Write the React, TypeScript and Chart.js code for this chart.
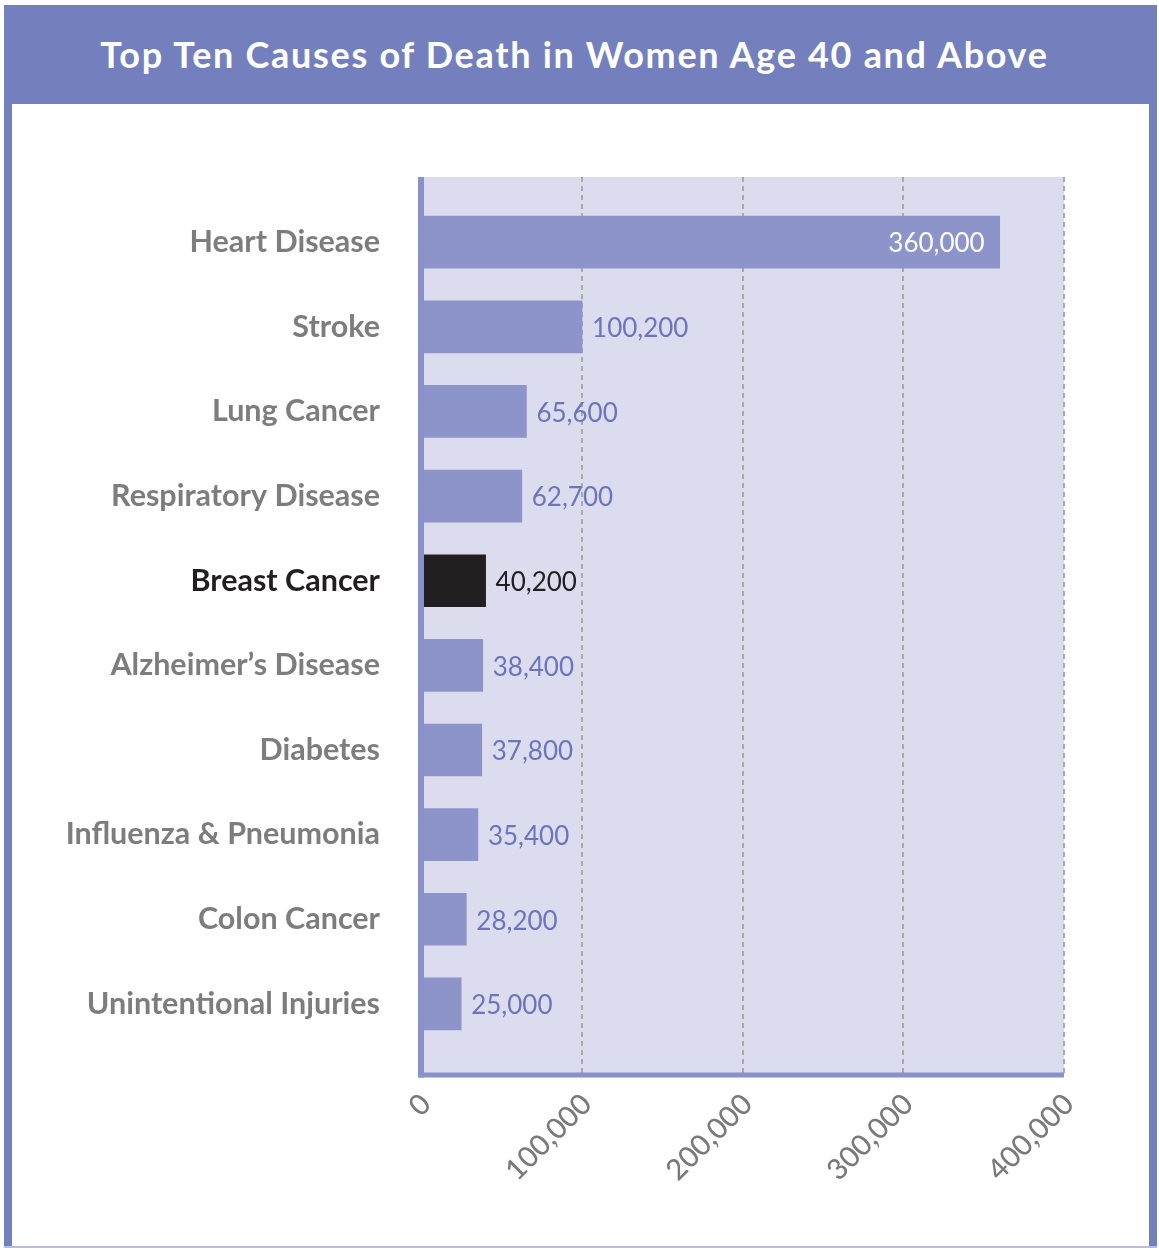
import React, { useEffect, useRef } from "react";
import { Chart, registerables } from "chart.js";
Chart.register(...registerables);

const TITLE = "Top Ten Causes of Death in Women Age 40 and Above";
const categories = [
  "Heart Disease",
  "Stroke",
  "Lung Cancer",
  "Respiratory Disease",
  "Breast Cancer",
  "Alzheimer’s Disease",
  "Diabetes",
  "Influenza & Pneumonia",
  "Colon Cancer",
  "Unintentional Injuries",
];
const deaths = [360000, 100200, 65600, 62700, 40200, 38400, 37800, 35400, 28200, 25000];
const xTickValues = [0, 100000, 200000, 300000, 400000];
const HIGHLIGHT = "Breast Cancer";

const FONT = "Lato, 'Noto Sans', sans-serif";
const FRAME = "#7480be";
const BAR = "#8c94ca";
const DARK = "#231f20";
const PLOT_BG = "#dcdcef";
const LABEL_PURPLE = "#6c75bb";
const GRAY = "#7a7a7a";
const AXIS = "#8a90c8";

const plotBg = {
  id: "plotBg",
  beforeDraw(chart: any) {
    const { ctx, chartArea } = chart;
    ctx.save();
    ctx.fillStyle = PLOT_BG;
    ctx.fillRect(chartArea.left, chartArea.top, chartArea.right - chartArea.left, chartArea.bottom - chartArea.top);
    ctx.restore();
  },
};

const axesAndLabels = {
  id: "axesAndLabels",
  afterDatasetsDraw(chart: any) {
    const { ctx, chartArea } = chart;
    const xs = chart.scales.x;
    const x0 = xs.getPixelForValue(0);
    ctx.save();
    ctx.strokeStyle = AXIS;
    ctx.lineWidth = 6;
    ctx.beginPath();
    ctx.moveTo(x0, chartArea.top);
    ctx.lineTo(x0, chartArea.bottom + 2.5);
    ctx.stroke();
    ctx.lineWidth = 5;
    ctx.beginPath();
    ctx.moveTo(x0 - 3, chartArea.bottom);
    ctx.lineTo(chartArea.right, chartArea.bottom);
    ctx.stroke();

    const meta = chart.getDatasetMeta(0);
    ctx.font = `400 26px ${FONT}`;
    ctx.textBaseline = "middle";
    meta.data.forEach((bar: any, i: number) => {
      const text = deaths[i].toLocaleString("en-US");
      const barLen = bar.x - x0;
      if (barLen > (chartArea.right - chartArea.left) / 2) {
        ctx.fillStyle = "#ffffff";
        ctx.textAlign = "right";
        ctx.fillText(text, bar.x - 15, bar.y + 1);
      } else {
        ctx.fillStyle = categories[i] === HIGHLIGHT ? DARK : LABEL_PURPLE;
        ctx.textAlign = "left";
        ctx.fillText(text, bar.x + 10, bar.y + 2);
      }
    });
    ctx.restore();
  },
};

function BarChart() {
  const ref = useRef<HTMLCanvasElement | null>(null);
  useEffect(() => {
    if (!ref.current) return;
    const chart = new Chart(ref.current, {
      type: "bar",
      data: {
        datasets: [
          {
            data: deaths.map((v, i) => ({ x: v, y: i })) as any,
            backgroundColor: categories.map((c) => (c === HIGHLIGHT ? DARK : BAR)),
            borderWidth: 0,
            barThickness: 52,
          },
        ],
      },
      options: {
        indexAxis: "y",
        animation: false,
        responsive: false,
        devicePixelRatio: 1,
        layout: { padding: { top: 177, right: 95, left: 0, bottom: 0 } },
        plugins: { legend: { display: false }, tooltip: { enabled: false }, title: { display: false } },
        scales: {
          x: {
            type: "linear",
            position: "bottom",
            min: 0,
            max: 400000,
            offset: false,
            afterBuildTicks: (s: any) => {
              s.ticks = xTickValues.map((v) => ({ value: v }));
            },
            afterFit: (s: any) => {
              s.height = 173;
            },
            ticks: {
              callback: (v: any) => Number(v).toLocaleString("en-US"),
              color: GRAY,
              font: { family: FONT, size: 29, weight: "500" },
              minRotation: 45,
              maxRotation: 45,
              padding: 12,
              labelOffset: 5,
              autoSkip: false,
            },
            grid: { color: "#a9a9a9", lineWidth: 2, drawTicks: false },
            border: { display: false, dash: [5, 4] },
          },
          y: {
            type: "linear",
            position: "left",
            reverse: true,
            offset: false,
            min: -0.77,
            max: 9.84,
            afterBuildTicks: (s: any) => {
              s.ticks = categories.map((_, i) => ({ value: i }));
            },
            afterFit: (s: any) => {
              s.width = 421;
            },
            ticks: {
              callback: (v: any) => categories[Number(v)],
              autoSkip: false,
              padding: 41,
              color: (c: any) => (categories[c.tick?.value] === HIGHLIGHT ? DARK : "#7d7d7d"),
              font: { family: FONT, size: 30.5, weight: "700" },
            },
            grid: { display: false, drawTicks: false },
            border: { display: false },
          },
        },
      } as any,
      plugins: [plotBg, axesAndLabels],
    });
    return () => chart.destroy();
  }, []);
  return (
    <canvas
      ref={ref}
      width={1159}
      height={1248}
      style={{ position: "absolute", left: 0, top: 0, width: 1159, height: 1248 }}
    />
  );
}

export default function App() {
  return (
    <div style={{ position: "absolute", left: 0, top: 0, width: 1159, height: 1248, background: "#fff", overflow: "hidden" }}>
      <div style={{ position: "absolute", left: 4, top: 5, width: 1153, height: 99, background: FRAME }} />
      <div style={{ position: "absolute", left: 4, top: 5, width: 8, height: 1243, background: FRAME }} />
      <div style={{ position: "absolute", left: 1149, top: 5, width: 8, height: 1243, background: FRAME }} />
      <div style={{ position: "absolute", left: 4, top: 1246, width: 1153, height: 2, background: "#b9bddd" }} />
      <div
        style={{
          position: "absolute",
          left: 4,
          top: 4,
          width: 1141,
          height: 99,
          display: "flex",
          alignItems: "center",
          justifyContent: "center",
          color: "#ffffff",
          fontFamily: FONT,
          fontWeight: 700,
          fontSize: 36,
          letterSpacing: 1.7,
          whiteSpace: "nowrap",
        }}
      >
        {TITLE}
      </div>
      <BarChart />
    </div>
  );
}
